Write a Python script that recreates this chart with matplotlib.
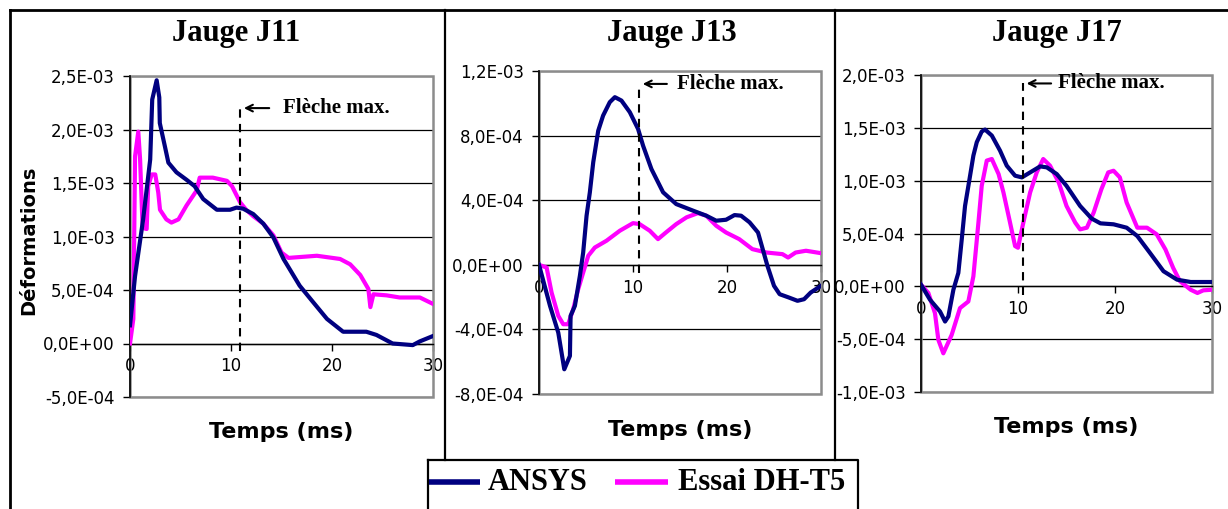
import numpy as np
import matplotlib
matplotlib.use('Agg')
import matplotlib.pyplot as plt
from matplotlib.patches import Rectangle
from matplotlib.lines import Line2D
from matplotlib.ticker import FuncFormatter

NAVY = '#000080'
MAGENTA = '#FF00FF'
SERIF = 'Liberation Serif'

# ---- data (strain in 1E-03, time in ms) ----
# Jauge J11
t11_ansys = [0, 0.5, 1.3, 2.0, 2.2, 2.64, 2.9, 2.95, 3.46, 3.8, 4.6, 5.6, 6.4, 7.25, 8.6, 9.9, 10.55,
             11.2, 12.2, 13.2, 14.2, 15.2, 16.8, 18.1, 19.5, 21.1, 23.4, 24.4, 26.0, 28.0, 28.7, 30]
e11_ansys = [0.17, 0.63, 1.16, 1.72, 2.28, 2.46, 2.3, 2.06, 1.84, 1.69, 1.6, 1.53, 1.47, 1.35, 1.25, 1.25,
             1.27, 1.26, 1.21, 1.12, 0.99, 0.79, 0.54, 0.39, 0.23, 0.11, 0.11, 0.08, 0.0, -0.015, 0.02, 0.07]
t11_essai = [0, 0.33, 0.5, 0.82, 1.0, 1.25, 1.65, 1.8, 2.15, 2.5, 2.8, 2.97, 3.6, 4.1, 4.8, 5.6, 6.6, 6.9,
             8.2, 9.6, 10.1, 10.9, 11.5, 12.2, 13.2, 14.2, 15.0, 15.7, 18.5, 20.8, 21.8, 22.8, 23.6, 23.8,
             24.1, 25.4, 26.7, 28.7, 30]
e11_essai = [0, 0.23, 1.75, 1.98, 1.72, 1.08, 1.07, 1.47, 1.58, 1.58, 1.41, 1.25, 1.16, 1.13, 1.16, 1.29,
             1.43, 1.55, 1.55, 1.52, 1.47, 1.32, 1.25, 1.19, 1.12, 1.01, 0.85, 0.8, 0.82, 0.79, 0.74, 0.64,
             0.51, 0.34, 0.46, 0.45, 0.43, 0.43, 0.37]

# Jauge J13
t13_ansys = [0, 1.17, 2.05, 2.69, 3.29, 3.36, 3.82, 4.35, 4.7, 5.06, 5.41, 5.77, 6.3, 6.82, 7.53, 8.07,
             8.77, 9.66, 10.54, 11.07, 11.96, 13.2, 14.6, 16.4, 17.8, 18.85, 19.9, 20.8, 21.5, 22.4, 23.3,
             23.8, 24.3, 25.0, 25.6, 26.6, 27.5, 28.2, 28.9, 30]
e13_ansys = [0, -0.254, -0.42, -0.647, -0.564, -0.316, -0.254, -0.068, 0.076, 0.304, 0.449, 0.635, 0.83,
             0.924, 1.007, 1.038, 1.017, 0.945, 0.841, 0.738, 0.593, 0.449, 0.376, 0.335, 0.304, 0.273,
             0.279, 0.308, 0.304, 0.263, 0.2, 0.097, -0.006, -0.13, -0.182, -0.203, -0.223, -0.213,
             -0.172, -0.13]
t13_essai = [0, 0.81, 1.34, 2.05, 2.58, 3.1, 3.64, 4.17, 4.7, 5.24, 5.94, 7.18, 8.6, 10.0, 10.7, 11.78,
             12.66, 13.5, 14.6, 15.7, 16.9, 17.8, 18.85, 19.9, 21.3, 22.7, 24.2, 25.9, 26.5, 27.3, 28.4, 30]
e13_essai = [0, -0.017, -0.172, -0.316, -0.368, -0.368, -0.275, -0.151, -0.048, 0.056, 0.107, 0.149,
             0.211, 0.258, 0.252, 0.211, 0.159, 0.2, 0.252, 0.294, 0.32, 0.304, 0.242, 0.2, 0.159, 0.097,
             0.076, 0.066, 0.045, 0.076, 0.087, 0.072]

# Jauge J17
t17_ansys = [0, 0.93, 1.96, 2.48, 2.82, 3.34, 3.85, 4.2, 4.54, 5.06, 5.4, 5.75, 6.26, 6.6, 7.3, 8.15,
             8.84, 9.7, 10.4, 11.25, 12.28, 12.97, 14.0, 15.0, 16.4, 17.6, 18.5, 19.85, 21.2, 22.3, 23.6,
             25.0, 26.4, 27.8, 30]
e17_ansys = [0.016, -0.127, -0.238, -0.333, -0.285, -0.032, 0.127, 0.444, 0.761, 1.047, 1.237, 1.364,
             1.465, 1.484, 1.427, 1.284, 1.142, 1.047, 1.031, 1.078, 1.135, 1.126, 1.062, 0.951, 0.761,
             0.641, 0.596, 0.587, 0.555, 0.476, 0.317, 0.143, 0.063, 0.041, 0.041]
t17_essai = [0, 0.76, 1.44, 1.79, 2.3, 3.16, 4.02, 4.88, 5.4, 5.92, 6.26, 6.78, 7.3, 8.0, 8.5, 9.18, 9.7,
             10.0, 10.55, 11.25, 11.93, 12.6, 13.3, 14.2, 15.0, 15.9, 16.4, 17.1, 17.8, 18.6, 19.3, 19.85,
             20.5, 21.2, 22.3, 23.3, 24.3, 25.2, 26.0, 26.7, 27.8, 28.5, 29.1, 30]
e17_essai = [0.016, -0.063, -0.254, -0.507, -0.634, -0.46, -0.206, -0.143, 0.095, 0.603, 0.951, 1.19,
             1.205, 1.062, 0.888, 0.603, 0.381, 0.365, 0.603, 0.888, 1.078, 1.205, 1.142, 0.983, 0.761,
             0.603, 0.539, 0.555, 0.698, 0.92, 1.078, 1.094, 1.031, 0.793, 0.555, 0.555, 0.492, 0.349,
             0.174, 0.048, -0.032, -0.063, -0.038, -0.032]

titles = ['Jauge J11', 'Jauge J13', 'Jauge J17']
ylims = [(-0.5e-3, 2.5e-3), (-0.8e-3, 1.2e-3), (-1.0e-3, 2.0e-3)]
ysteps = [0.5e-3, 0.4e-3, 0.5e-3]
# "Flèche max." marker: time, top, bottom of dashed line (strain 1E-03), text x, arrow start x
fleche_t = [10.9, 10.64, 10.5]
fleche_top = [2.2, 1.12, 1.92]
fleche_bot = [-0.07, -0.05, -0.08]
fleche_txt = [15.15, 14.7, 14.1]
fleche_arr = [14.06, 13.9, 13.7]

series = [(t11_ansys, e11_ansys, t11_essai, e11_essai),
          (t13_ansys, e13_ansys, t13_essai, e13_essai),
          (t17_ansys, e17_ansys, t17_essai, e17_essai)]

W, H = 1228, 509
fig = plt.figure(figsize=(W / 100, H / 100), dpi=100)

def px(x, y):
    return x / W, 1 - y / H

# axes boxes in pixels: left, top, right, bottom
boxes = [(130, 76, 433, 397), (539, 71, 821, 394), (921, 75, 1212, 392)]
title_x = [236, 672, 1057]
xlabel_y = [432, 430, 427]

fmt = FuncFormatter(lambda v, p: ('%.1E' % v).replace('.', ','))

for i, (l, t, r, b) in enumerate(boxes):
    ax = fig.add_axes([l / W, 1 - b / H, (r - l) / W, (b - t) / H])
    ta, ea, te, ee = series[i]
    ax.plot(ta, np.array(ea) * 1e-3, color=NAVY, lw=3, zorder=4, solid_joinstyle='round')
    ax.plot(te, np.array(ee) * 1e-3, color=MAGENTA, lw=3, zorder=3, solid_joinstyle='round')

    lo, hi = ylims[i]
    ax.set_xlim(0, 30)
    ax.set_ylim(lo, hi)
    ax.set_yticks(np.arange(lo, hi + ysteps[i] / 2, ysteps[i]))
    ax.set_xticks([0, 10, 20, 30])
    ax.yaxis.set_major_formatter(fmt)
    ax.yaxis.grid(True, color='black', lw=0.9)
    ax.set_axisbelow(True)

    for s in ['top', 'right']:
        ax.spines[s].set_visible(False)
    ax.spines['bottom'].set_position(('data', 0))
    ax.spines['bottom'].set_color('black')
    ax.spines['bottom'].set_linewidth(1)
    ax.spines['left'].set_linewidth(1.2)
    ax.add_patch(Rectangle((0, 0), 1, 1, transform=ax.transAxes, fill=False,
                           edgecolor='#8c8c8c', lw=1.8, zorder=2, clip_on=False))
    ax.tick_params(axis='y', direction='out', length=5, width=1, pad=6, labelsize=12)
    ax.tick_params(axis='x', direction='out', length=5, width=1, pad=5, labelsize=12)

    # Flèche max.
    ax.plot([fleche_t[i], fleche_t[i]], [fleche_bot[i] * 1e-3, fleche_top[i] * 1e-3],
            color='black', ls=(0, (4, 3)), lw=1.5, zorder=5)
    ax.annotate('', xy=(fleche_t[i] + 0.1, fleche_top[i] * 1e-3),
                xytext=(fleche_arr[i], fleche_top[i] * 1e-3),
                arrowprops=dict(arrowstyle='->', color='black', lw=1.5, mutation_scale=12))
    ax.text(fleche_txt[i], fleche_top[i] * 1e-3, 'Flèche max.', family=SERIF,
            fontweight='bold', fontsize=15, ha='left', va='center')

    fig.text(*px(title_x[i], 33), titles[i], family=SERIF, fontweight='bold',
             fontsize=22, ha='center', va='center')
    fig.text(*px((l + r) / 2, xlabel_y[i]), 'Temps (ms)', fontweight='bold',
             fontsize=16, ha='center', va='center')

fig.text(*px(29, 240), 'Déformations', fontweight='bold', fontsize=14,
         rotation=90, ha='center', va='center')

# outer frame and separators
def fline(xs, ys, color='black', **kw):
    fig.add_artist(Line2D([x / W for x in xs], [1 - y / H for y in ys], color=color, **kw))

fline([10, W], [10, 10], lw=2)
fline([10, 10], [10, H], lw=2)
fline([445, 445], [10, 460], lw=1.6)
fline([835, 835], [10, 460], lw=1.6)
fline([428, 858, 858], [460, 460, H], lw=1.6)
fline([428, 428], [460, H], lw=1.6)

# legend
fline([429, 480], [482, 482], color=NAVY, lw=4, solid_capstyle='butt')
fig.text(*px(488, 483), 'ANSYS', family=SERIF, fontweight='bold', fontsize=22, ha='left', va='center')
fline([615, 668], [482, 482], color=MAGENTA, lw=4, solid_capstyle='butt')
fig.text(*px(678, 483), 'Essai DH-T5', family=SERIF, fontweight='bold', fontsize=22, ha='left', va='center')

fig.savefig('out.png', dpi=100)
